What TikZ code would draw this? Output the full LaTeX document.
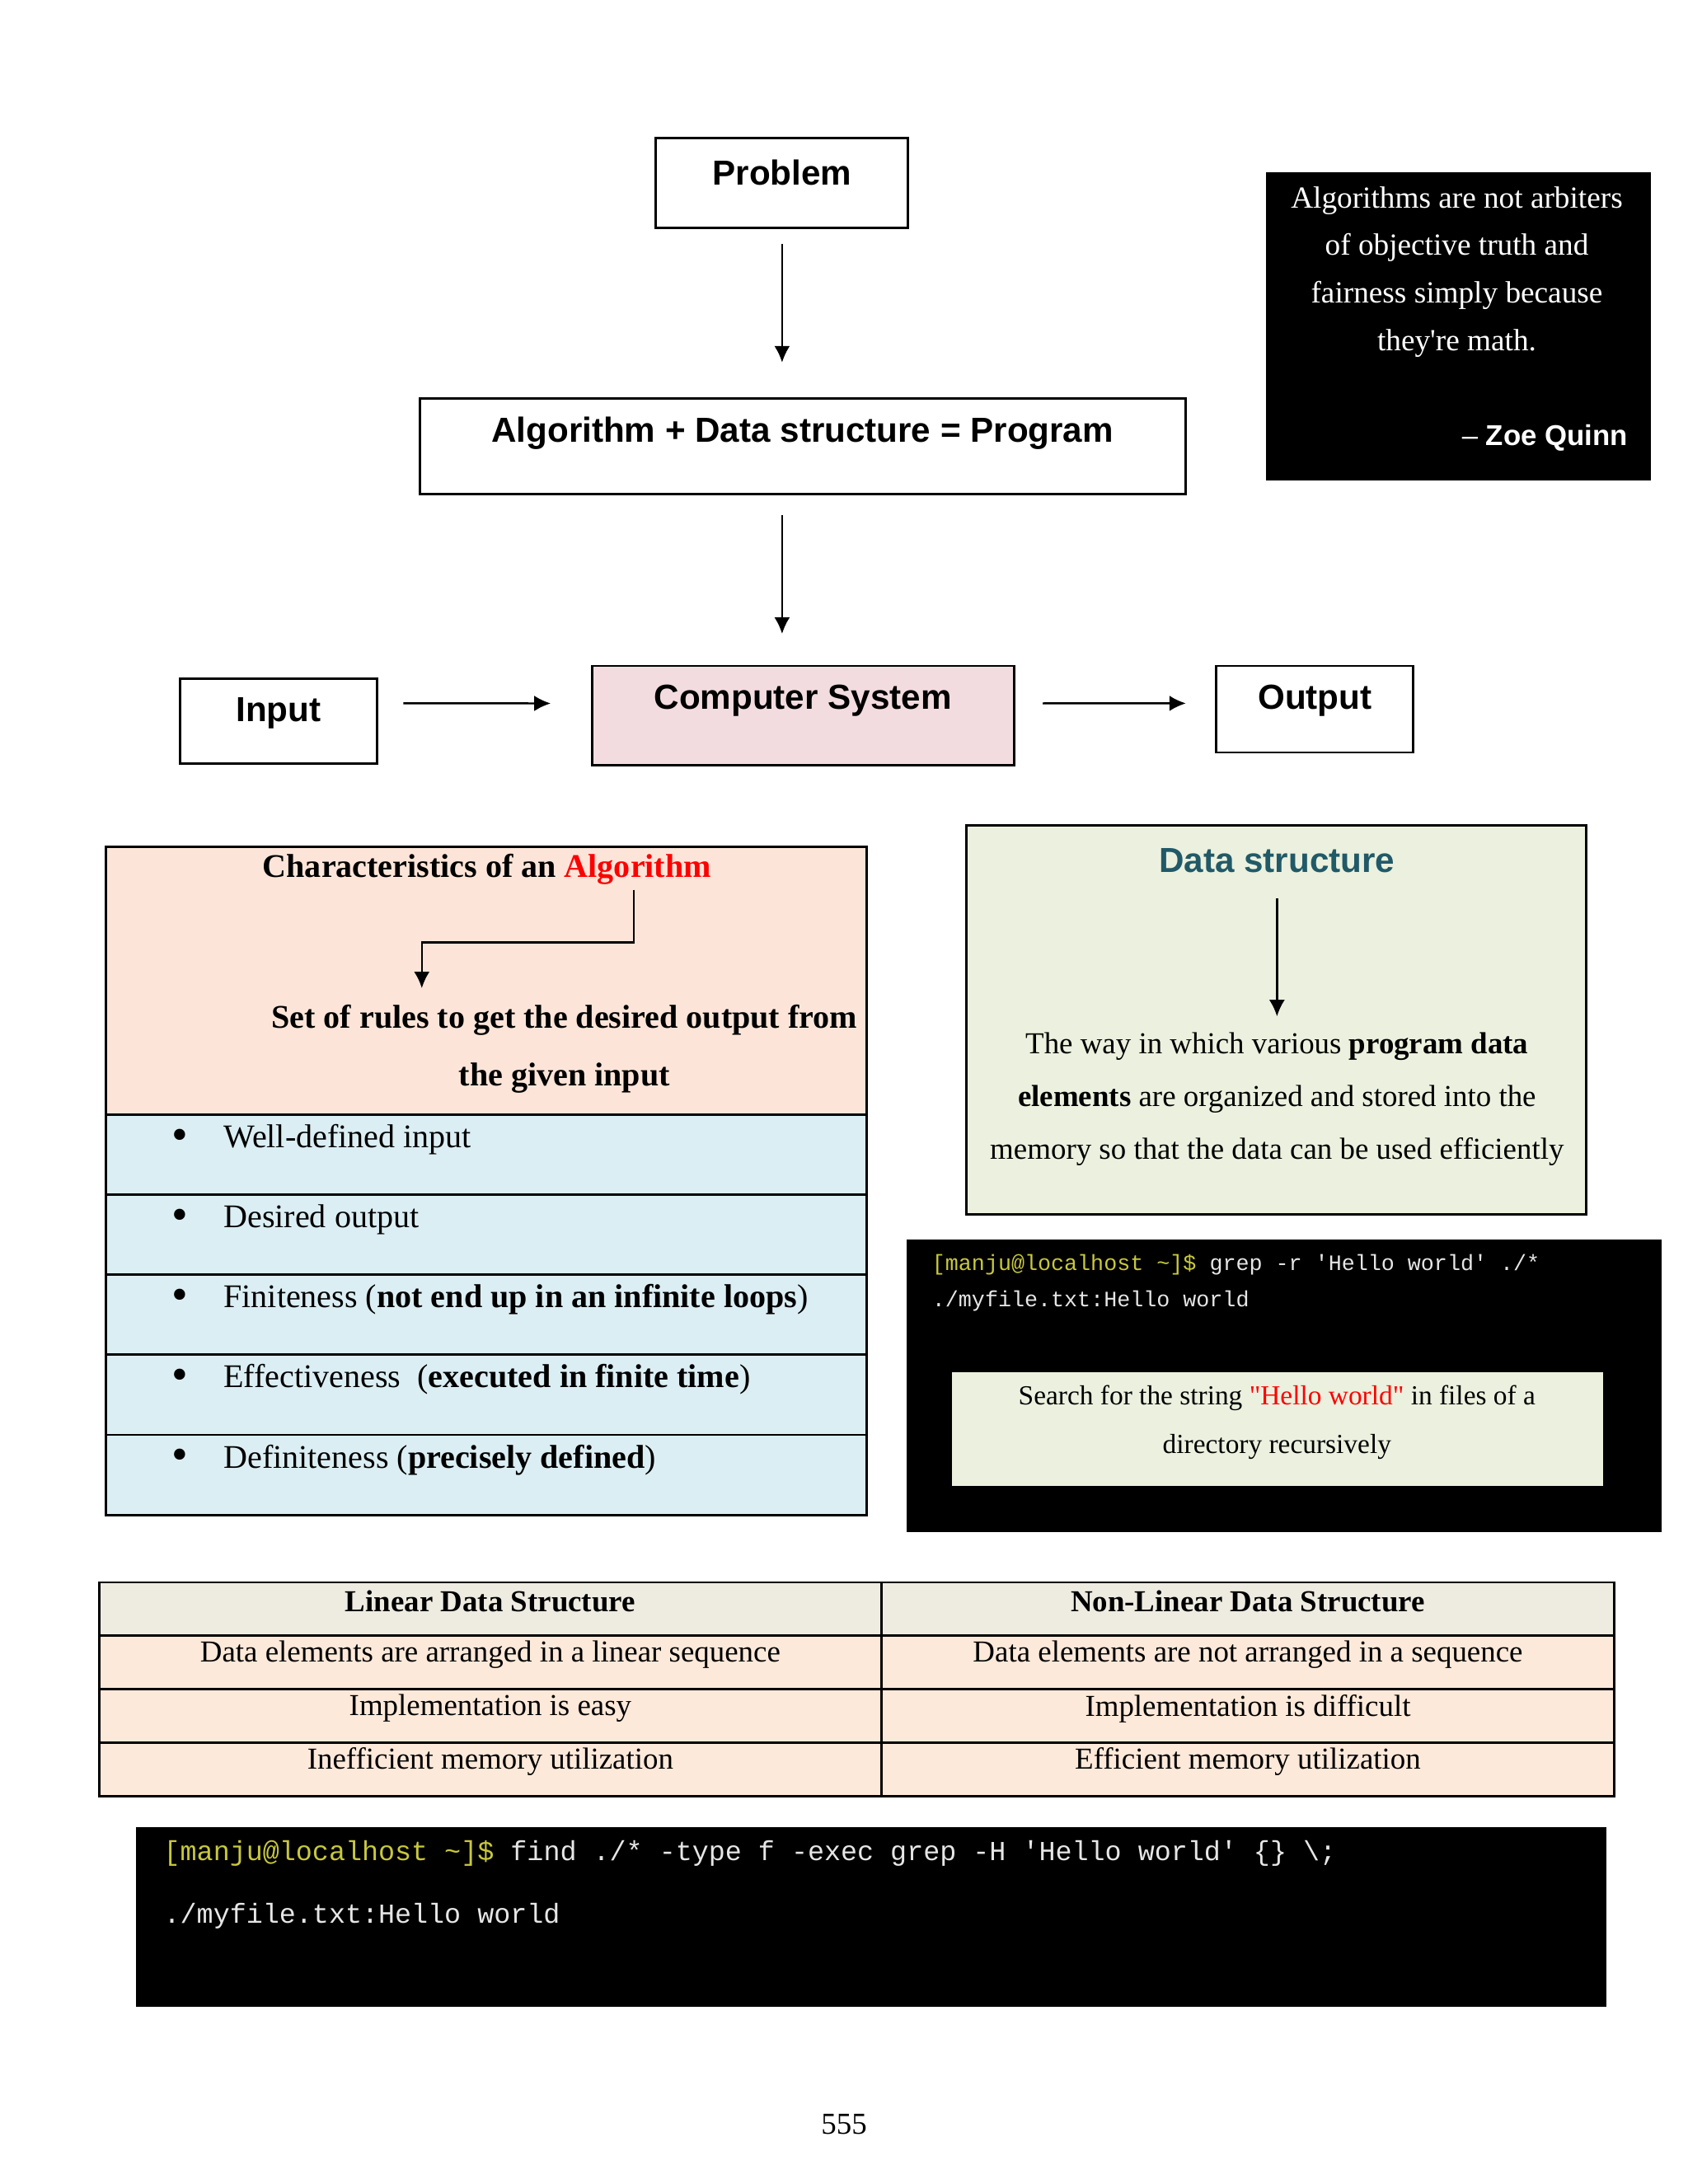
\documentclass[tikz,border=0pt]{standalone}
\usepackage{fontspec}
\setmainfont{Liberation Serif}
\setsansfont{Liberation Sans}
\setmonofont{Liberation Mono}
\usepackage{xcolor}
\usetikzlibrary{arrows.meta,positioning,calc}
\definecolor{peach}{HTML}{FCE5D8}
\definecolor{paleblue}{HTML}{DBEEF3}
\definecolor{palegreen}{HTML}{EBF1DE}
\definecolor{pinkbox}{HTML}{F2DCDF}
\definecolor{tabhead}{HTML}{EEECE1}
\definecolor{tabrow}{HTML}{FDE9D9}
\definecolor{dsteal}{HTML}{215968}
\definecolor{prompt}{HTML}{C8C83C}
\definecolor{termtxt}{HTML}{E6E6E6}

\begin{document}
\begin{tikzpicture}[x=0.101mm, y=-0.101mm, >=Latex]
\tikzstyle{box}=[draw, line width=0.8pt, inner sep=0pt, outer sep=0pt]
\tikzstyle{hd}=[font=\sffamily\bfseries\fontsize{12}{14}\selectfont, inner sep=0pt]
\tikzstyle{txt}=[font=\fontsize{10.5}{12.5}\selectfont, inner sep=0pt]
\tikzstyle{txtb}=[font=\bfseries\fontsize{10.5}{12.5}\selectfont, inner sep=0pt]
\tikzstyle{item}=[font=\fontsize{11.4}{13.5}\selectfont, inner sep=0pt]
\tikzstyle{cell}=[box, minimum height=6.49mm]
\tikzstyle{term}=[fill=black, inner sep=0pt, outer sep=0pt]
\tikzstyle{mono}=[font=\ttfamily\fontsize{7.6}{9}\selectfont, text=termtxt, inner sep=0pt, anchor=west]
\tikzstyle{arr}=[-{Latex[length=2mm,width=1.9mm]}, line width=0.7pt]
\useasboundingbox (0,0) rectangle (2027.7,2623.8);

% problem -> program -> computer system
\node[box, minimum width=30.6mm, minimum height=10.9mm] (prob) at (939.5,220) {};
\node[hd] (probt) at (939.5,207) {Problem};
\node[box, minimum width=92.9mm, minimum height=11.6mm] (algo) at (964,536.5) {};
\node[hd] (algot) at (964,520) {Algorithm + Data structure = Program};
\node[box, fill=pinkbox, minimum width=51.2mm, minimum height=12mm] (cs) at (964.5,859.5) {};
\node[hd] (cst) at (964.5,842) {Computer System};
\node[box, minimum width=23.9mm, minimum height=10.3mm] (inp) at (334.5,866) {};
\node[hd] (inpt) at (334.5,857) {Input};
\node[box, minimum width=23.9mm, minimum height=10.5mm] (outp) at (1579.5,852) {};
\node[hd] (outpt) at (1579.5,842) {Output};

\draw[arr, shorten <=1.9mm, shorten >=4.4mm] (prob.south) -- (prob.south |- algo.north);
\draw[arr, shorten <=2.5mm, shorten >=3.9mm] (prob.south |- algo.south) -- (prob.south |- cs.north);
\draw[arr, shorten <=3.2mm, shorten >=5mm] ([yshift=2.12mm]inp.east) -- ([yshift=1.46mm]cs.west);
\draw[arr, shorten <=3.5mm, shorten >=3.7mm] ([yshift=1.46mm]cs.east) -- ([yshift=0.71mm]outp.west);

% quote
\node[term, minimum width=46.7mm, minimum height=37.4mm] (quote) at (1752,392) {};
\node[font=\fontsize{10.6}{16.4}\selectfont, text=white, align=center, inner sep=0pt] (quotet) at (1750,326.5) {Algorithms are not arbiters\\of objective truth and\\fairness simply because\\they\textquotesingle re math.};
\node[hd, font=\sffamily\bfseries\fontsize{9.9}{12}\selectfont, text=white, anchor=east] (quoteby) at (1956,526) {{\mdseries\textendash} Zoe Quinn};

% characteristics of an algorithm
\node[box, fill=peach, minimum width=92.3mm, minimum height=32.5mm] (chtop) at (584,1178) {};
\node[item, font=\bfseries\fontsize{11.4}{13.5}\selectfont] (chtitle) at (585,1044) {Characteristics of an \textcolor{red}{Algorithm}};
\node[item, align=center, font=\bfseries\fontsize{11.4}{19.8}\selectfont] (rules) at (678,1260.5) {Set of rules to get the desired output from\\the given input};
\draw[arr, shorten <=0.6mm, shorten >=2mm] ([xshift=17.8mm]chtitle.south) -- ++(0,69) -| ([xshift=-17.3mm]rules.north);
\foreach \t [count=\i] in {Well-defined input, Desired output, {Finiteness (\textbf{not end up in an infinite loops})}, {Effectiveness\ \ (\textbf{executed in finite time})}, {Definiteness (\textbf{precisely defined})}} {
  \node[box, fill=paleblue, minimum width=92.3mm, minimum height=9.72mm] (row\i) at (584,{1387.1+(\i-1)*96.2}) {};
  \node[item, font=\fontsize{16}{16}\selectfont] (dot\i) at ($(row\i.north west)+(89,30)$) {\textbullet};
  \node[item, anchor=west] (item\i) at ($(row\i.north west)+(141,30)$) {\t};
}

% data structure
\node[box, fill=palegreen, minimum width=75.2mm, minimum height=47.2mm] (ds) at (1533.5,1225.5) {};
\node[hd, text=dsteal] (dst) at (1534,1034) {Data structure};
\node[txt, align=center, font=\fontsize{10.5}{18.2}\selectfont] (dsdef) at (1534,1320.5) {The way in which various \textbf{program data}\\\textbf{elements} are organized and stored into the\\memory so that the data can be used efficiently};
\draw[arr, shorten <=3mm, shorten >=1.9mm] (dst) -- (dsdef);

% grep terminal
\node[term, minimum width=91.6mm, minimum height=35.5mm] (term1) at (1542.5,1664.5) {};
\node[mono] (grep) at (1119,1519) {\textcolor{prompt}{[manju@localhost \textasciitilde]\$} grep -r 'Hello world' ./*};
\node[mono] (grepout) at (1119,1563) {./myfile.txt:Hello world};
\node[fill=palegreen, minimum width=79mm, minimum height=13.8mm, inner sep=0pt] (note) at (1535,1716.5) {};
\node[txt, align=center, font=\fontsize{9.5}{16.7}\selectfont] (notet) at (1534,1709) {Search for the string \textcolor{red}{\textquotedbl Hello world\textquotedbl} in files of a\\directory recursively};

% linear vs non-linear table
\node[cell, fill=tabhead, minimum width=94.9mm] (lh) at (589,1933.1) {};
\node[cell, fill=tabhead, minimum width=88.9mm] (rh) at (1499,1933.1) {};
\node[txtb] (lht) at ($(lh.north)+(0,23)$) {Linear Data Structure};
\node[txtb] (rht) at ($(rh.north)+(0,23)$) {Non-Linear Data Structure};
\foreach \l/\r [count=\i] in {Data elements are arranged in a linear sequence/Data elements are not arranged in a sequence, Implementation is easy/Implementation is difficult, Inefficient memory utilization/Efficient memory utilization} {
  \node[cell, fill=tabrow, minimum width=94.9mm] (lc\i) at (589,{1933.1+\i*64.25}) {};
  \node[cell, fill=tabrow, minimum width=88.9mm] (rc\i) at (1499,{1933.1+\i*64.25}) {};
  \node[txt] (lt\i) at ($(lc\i.north)+(0,23)$) {\l};
  \node[txt] (rt\i) at ($(rc\i.north)+(0,23)$) {\r};
}

% find terminal
\node[term, minimum width=178.3mm, minimum height=21.8mm] (term2) at (1046.5,2303) {};
\node[mono, font=\ttfamily\fontsize{9.5}{11}\selectfont] (find) at (196,2227) {\textcolor{prompt}{[manju@localhost \textasciitilde]\$} find ./* -type f -exec grep -H 'Hello world' \{\} \textbackslash;};
\node[mono, font=\ttfamily\fontsize{9.5}{11}\selectfont] (findout) at (196,2302) {./myfile.txt:Hello world};

\node[txt] (pageno) at (1014,2552) {555};
\end{tikzpicture}
\end{document}
